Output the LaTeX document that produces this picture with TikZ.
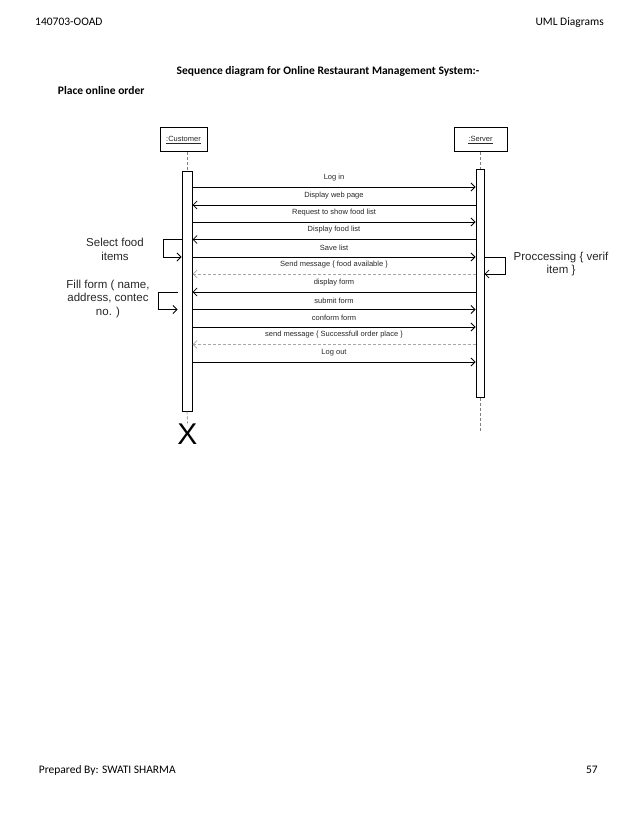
\documentclass[tikz,border=0pt]{standalone}
\usepackage{fontspec}
\setmainfont{Carlito}
\newfontfamily\arialfont{Liberation Sans}
\usetikzlibrary{arrows.meta}

\tikzset{
  pagetext/.style={font=\fontsize{11.5}{13}\selectfont, inner sep=0pt},
  lifebox/.style={draw, line width=1pt, minimum width=47pt, minimum height=24pt, inner sep=0pt, font=\arialfont\fontsize{7.5}{8}\selectfont, text=black!85},
  actbar/.style={draw, line width=1pt, fill=white, minimum width=10pt, inner sep=0pt},
  lifeline/.style={draw=black!50, line width=0.6pt, dash pattern=on 3pt off 2pt},
  msg/.style={-{Straight Barb[length=4pt,width=8pt]}, line width=0.8pt},
  reply/.style={msg, draw=black!35, dash pattern=on 3pt off 2pt},
  note/.style={font=\arialfont\fontsize{11.5}{13.5}\selectfont, align=center, inner sep=0pt, text=black!85}
}

\begin{document}
\begin{tikzpicture}[x=1pt, y=-1pt, every node/.style={font=\arialfont\fontsize{7.5}{8.5}\selectfont, text=black!85}]
  \useasboundingbox (0,0) rectangle (638,826);
  \node[pagetext, anchor=west, text=black] (course) at (35,22.3) {140703-OOAD};
  \node[pagetext, anchor=east, text=black] (subject) at (604,22.3) {UML Diagrams};
  \node[pagetext, text=black, font=\bfseries\fontsize{11.5}{13}\selectfont] (title) at (328,71) {Sequence diagram for Online Restaurant Management System:-};
  \node[pagetext, anchor=west, text=black, font=\bfseries\fontsize{11.5}{13}\selectfont] (case) at (57.7,91) {Place online order};
  \node[pagetext, anchor=west, text=black] (author) at (38.7,770) {Prepared By: SWATI SHARMA};
  \node[pagetext, anchor=east, text=black] (pageno) at (598,770) {57};

  \node[lifebox] (cust) at (183.5,140) {\underline{:Customer}};
  \node[lifebox, minimum width=53pt] (serv) at (480.5,140) {\underline{:Server}};
  \node[actbar, minimum height=239pt] (custbar) at (187,291.5) {};
  \node[actbar, minimum width=8pt, minimum height=227pt] (servbar) at (480,283.5) {};
  \node[font=\arialfont\fontsize{30}{30}\selectfont, text=black, inner sep=0pt] (destroy) at (187.5,434) {X};
  \coordinate (servend) at (480,432);

  \draw[lifeline] (custbar.north |- cust.south) -- (custbar.north);
  \draw[lifeline] (custbar.south) -- (destroy.north);
  \draw[lifeline] (servbar.north |- serv.south) -- (servbar.north);
  \draw[lifeline] (servbar.south) -- (servend);

  \foreach \y/\txt in {187/Log in, 222/Request to show food list, 257/Save list, 309.5/submit form, 327/conform form, 362/Log out}
    \draw[msg] (custbar.east |- 0,\y) -- node[above=2.5pt] {\txt} (servbar.west |- 0,\y);
  \foreach \y/\txt/\kind in {205/Display web page/msg, 239.5/Display food list/msg, 274/Send message \{ food available \}/reply, 292/display form/msg, 344.5/send message \{ Successfull order place \}/reply}
    \draw[\kind] (servbar.west |- 0,\y) -- node[above=2.5pt, text=black!85] {\txt} (custbar.east |- 0,\y);

  \draw[msg] (custbar.west |- 0,239.5) -- ++(-18,0) |- (custbar.west |- 0,257);
  \draw[msg] ([xshift=-4pt]custbar.west |- 0,292) -- ++(-19,0) |- ([xshift=-4pt]custbar.west |- 0,309.5);
  \draw[msg] (servbar.east |- 0,257) -- ++(21,0) |- (servbar.east |- 0,274);

  \node[note] (select) at (115,249.5) {Select food\\items};
  \node[note] (fill) at (108,299) {Fill form ( name,\\address, contec\\no. )};
  \node[note] (verify) at (561,264) {Proccessing \{ verif\\item \}};
\end{tikzpicture}
\end{document}
